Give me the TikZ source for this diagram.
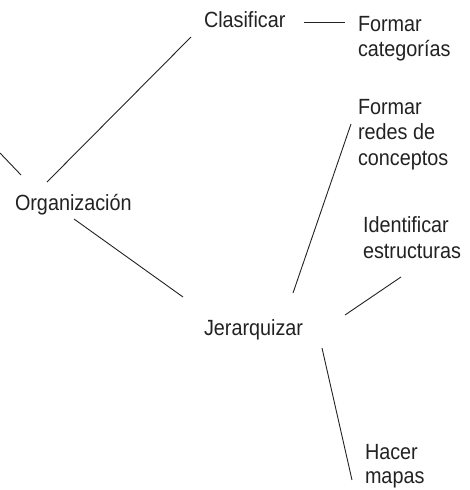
\documentclass[tikz,border=0pt]{standalone}
\usepackage{fontspec}
\setmainfont[FakeStretch=0.9]{Liberation Sans}
\definecolor{ink}{HTML}{222222}
\begin{document}
\begin{tikzpicture}[x=1pt,y=-1pt,
  lbl/.style={inner sep=0pt,outer sep=0pt,font=\fontsize{22}{25.5}\selectfont,text=ink,align=left},
  conn/.style={draw=ink,line width=0.9pt}]
\useasboundingbox (0,0) rectangle (470,490);
% nodes
\node[lbl,anchor=base west] (clas) at (204,27) {Clasificar};
\node[lbl,anchor=north west] (cat) at (358,16.2) {Formar\\categorías};
\node[lbl,anchor=north west] (redes) at (358,99.2) {Formar\\redes de\\conceptos};
\node[lbl,anchor=base west] (org) at (15,210) {Organización};
\node[lbl,anchor=north west] (ident) at (363,217) {Identificar\\estructuras};
\node[lbl,anchor=base west] (jer) at (204,335) {Jerarquizar};
\node[lbl,anchor=north west,font=\fontsize{22}{24}\selectfont] (mapas) at (365,444.2) {Hacer\\mapas};
\coordinate (offl) at (0,153);
% connectors
\draw[conn] (offl) -- ([shift={(6,-35)}]org.base west);
\draw[conn] ([shift={(32,-28)}]org.base west) -- ([shift={(-13,10)}]clas.base west);
\draw[conn] ([shift={(100,-5)}]clas.base west) -- ([shift={(-13,5.8)}]cat.north west);
\draw[conn] ([shift={(59,9)}]org.base west) -- ([shift={(-21,-38)}]jer.base west);
\draw[conn] ([shift={(89,-42)}]jer.base west) -- ([shift={(-7,24.8)}]redes.north west);
\draw[conn] ([shift={(141,-20)}]jer.base west) -- ([shift={(38,60)}]ident.north west);
\draw[conn] ([shift={(118,13)}]jer.base west) -- ([shift={(-13,35.8)}]mapas.north west);
\end{tikzpicture}
\end{document}
